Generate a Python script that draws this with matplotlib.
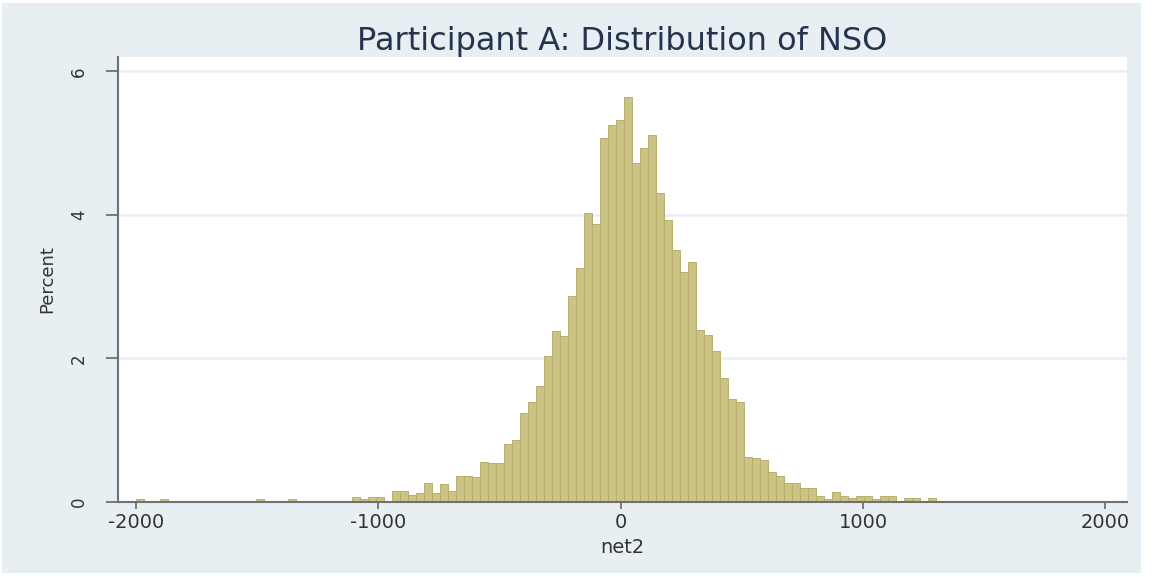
import numpy as np
import matplotlib
matplotlib.use('Agg')
import matplotlib.pyplot as plt
from matplotlib.patches import Rectangle

############ data ############

title = 'Participant A: Distribution of NSO'
xlabel = 'net2'
ylabel = 'Percent'

bin_start = -2000
bin_width = 33

# percent per bin, 100 bins from -2000 to 1300
pct = [0.035, 0, 0, 0.035, 0, 0, 0, 0, 0, 0,
       0, 0, 0, 0, 0, 0.035, 0, 0, 0, 0.035,
       0, 0, 0, 0, 0, 0, 0, 0.07, 0.035, 0.07,
       0.07, 0, 0.16, 0.16, 0.10, 0.125, 0.265, 0.125, 0.25, 0.15,
       0.36, 0.36, 0.35, 0.56, 0.54, 0.54, 0.81, 0.87, 1.24, 1.40,
       1.61, 2.04, 2.38, 2.31, 2.87, 3.26, 4.02, 3.87, 5.07, 5.25,
       5.32, 5.64, 4.73, 4.93, 5.12, 4.31, 3.93, 3.51, 3.20, 3.34,
       2.40, 2.33, 2.10, 1.73, 1.43, 1.40, 0.62, 0.61, 0.58, 0.42,
       0.36, 0.27, 0.27, 0.19, 0.19, 0.08, 0.035, 0.14, 0.09, 0.05,
       0.09, 0.09, 0.035, 0.09, 0.09, 0, 0.05, 0.05, 0, 0.05]

xticks = [-2000, -1000, 0, 1000, 2000]
yticks = [0, 2, 4, 6]

edges = bin_start + bin_width * np.arange(len(pct) + 1)

############ plot ############

fig = plt.figure(figsize=(11.53, 5.77), dpi=100)
fig.patch.set_facecolor('white')
fig.add_artist(Rectangle((2/1153, 4/577), 1139/1153, 570/577,
                         transform=fig.transFigure, facecolor='#e8eff2',
                         edgecolor='none', zorder=0))

ax = fig.add_axes([118/1153, 1 - 502/577, 1009/1153, 445/577])
ax.set_facecolor('white')

ax.hist(edges[:-1], bins=edges, weights=pct, color='#cbc486',
        edgecolor='#b8af6b', linewidth=0.7)

ax.set_xlim(-2075, 2090)
ax.set_ylim(0, 6.2)
ax.set_xticks(xticks)
ax.set_yticks(yticks)
ax.set_xticklabels([str(t).replace('-', '-') for t in xticks])

ax.set_axisbelow(True)
ax.yaxis.grid(True, color='#eaf1f4', linewidth=2)

for s in ['top', 'right']:
    ax.spines[s].set_visible(False)
for s in ['left', 'bottom']:
    ax.spines[s].set_color('#707070')
    ax.spines[s].set_linewidth(1.5)

ax.tick_params(axis='x', length=5, width=1.3, color='#707070',
               labelsize=14, labelcolor='#333333', pad=3)
ax.tick_params(axis='y', length=8.5, width=1.3, color='#707070',
               labelsize=12, labelcolor='#333333', pad=13, labelrotation=90)
for lab in ax.get_yticklabels():
    lab.set_va('center')

ax.set_xlabel(xlabel, fontsize=14, color='#333333', labelpad=4)
ax.set_ylabel(ylabel, fontsize=13, color='#333333', labelpad=10)
ax.set_title(title, fontsize=23, color='#26334f', pad=5)

plt.savefig('out.png', dpi=100, facecolor=fig.get_facecolor())
